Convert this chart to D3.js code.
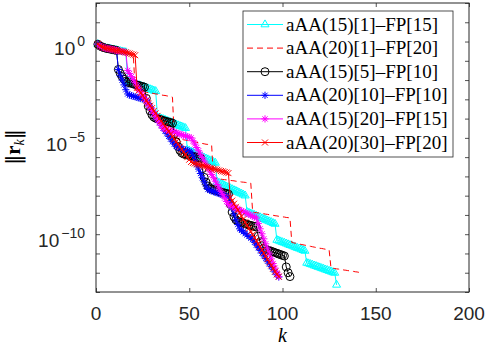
<!DOCTYPE html>
<html>
<head>
<meta charset="UTF-8">
<title>Residual history</title>
<script src="https://cdn.jsdelivr.net/npm/d3@7"></script>
<style>
  body { margin: 0; background: #fff; }
  svg { display: block; }
</style>
</head>
<body>
<div id="chart"></div>
<script>
  // legend labels, in plotting order
  const seriesNames = [
    "aAA(15)[1]\u2013FP[15]",
    "aAA(20)[1]\u2013FP[20]",
    "aAA(15)[5]\u2013FP[10]",
    "aAA(20)[10]\u2013FP[10]",
    "aAA(15)[20]\u2013FP[15]",
    "aAA(20)[30]\u2013FP[20]"
  ];

  // log10 ||r_k|| for k = 1, 2, 3, ...
  const logCyan = [
    -0.14, -0.22, -0.27, -0.31, -0.34, -0.36, -0.38, -0.40, -0.42, -0.44, -0.46, -0.48, -0.50, -0.52, -0.54, -0.56,
    -2.06, -2.10, -2.13, -2.17, -2.20, -2.23, -2.27, -2.30, -2.34, -2.37, -2.41, -2.44, -2.48, -2.51, -2.55, -2.58,
    -3.92, -3.96, -4.00, -4.03, -4.07, -4.11, -4.15, -4.19, -4.23, -4.27, -4.31, -4.35, -4.39, -4.42, -4.46, -4.50,
    -5.63, -5.67, -5.72, -5.76, -5.81, -5.85, -5.90, -5.94, -5.99, -6.03, -6.08, -6.12, -6.17, -6.21, -6.26, -6.30,
    -7.29, -7.34, -7.38, -7.43, -7.48, -7.53, -7.57, -7.62, -7.67, -7.72, -7.76, -7.81, -7.86, -7.90, -7.95, -8.00,
    -8.85, -8.89, -8.93, -8.97, -9.01, -9.05, -9.09, -9.13, -9.18, -9.22, -9.26, -9.30, -9.34, -9.38, -9.43, -9.47,
    -10.30, -10.34, -10.38, -10.42, -10.45, -10.49, -10.53, -10.57, -10.60, -10.64, -10.68, -10.72, -10.75, -10.79, -10.83, -10.87,
    -11.49, -11.52, -11.56, -11.59, -11.63, -11.66, -11.70, -11.73, -11.77, -11.80, -11.84, -11.87, -11.91, -11.94, -11.98, -12.01,
    -12.63
  ];

  const logRedDash = [
    -0.14, -0.22, -0.27, -0.31, -0.34, -0.36, -0.38, -0.40, -0.42, -0.44, -0.46, -0.48, -0.50, -0.52, -0.54, -0.56,
    -0.59, -0.62, -0.65, -0.68,
    -2.52, -2.54, -2.56, -2.58, -2.59, -2.61, -2.63, -2.65, -2.66, -2.68, -2.70, -2.72, -2.73, -2.75, -2.77, -2.79,
    -2.80, -2.82, -2.84, -2.86, -2.89,
    -5.01, -5.03, -5.05, -5.06, -5.08, -5.10, -5.12, -5.14, -5.15, -5.17, -5.19, -5.21, -5.23, -5.25, -5.27, -5.29,
    -5.31, -5.33, -5.34, -5.36, -5.38,
    -7.09, -7.10, -7.12, -7.13, -7.14, -7.16, -7.17, -7.18, -7.20, -7.21, -7.22, -7.23, -7.25, -7.26, -7.27, -7.29,
    -7.30, -7.31, -7.33, -7.34, -7.35,
    -8.85, -8.87, -8.88, -8.90, -8.91, -8.93, -8.94, -8.96, -8.97, -8.99, -9.00, -9.02, -9.04, -9.05, -9.07, -9.08,
    -9.10, -9.11, -9.13, -9.14, -9.16,
    -10.43, -10.45, -10.47, -10.49, -10.51, -10.53, -10.55, -10.57, -10.59, -10.61, -10.63, -10.65, -10.67, -10.69,
    -10.71, -10.73, -10.74, -10.76, -10.78, -10.80, -10.82,
    -11.75, -11.77, -11.78, -11.80, -11.81, -11.83, -11.84, -11.86, -11.87, -11.89, -11.90, -11.92, -11.93, -11.95,
    -11.96, -11.98, -11.99, -12.01
  ];

  const logBlack = [
    -0.14, -0.22, -0.27, -0.31, -0.34, -0.36, -0.38, -0.40, -0.42, -0.44, -0.46,
    -1.45, -1.65, -1.82, -1.96, -2.06,
    -2.11, -2.14, -2.17, -2.20, -2.23, -2.26, -2.29, -2.31, -2.34, -2.37,
    -2.95, -3.35, -3.60, -3.80, -3.92,
    -3.98, -4.01, -4.04, -4.07, -4.10, -4.13, -4.16, -4.18, -4.21, -4.24,
    -4.80, -5.20, -5.45, -5.65, -5.78,
    -5.84, -5.86, -5.89, -5.91, -5.93, -5.96, -5.98, -6.00, -6.03, -6.05,
    -6.60, -7.05, -7.30, -7.50, -7.60,
    -7.66, -7.69, -7.72, -7.75, -7.78, -7.81, -7.84, -7.86, -7.89, -7.92,
    -8.45, -8.85, -9.10, -9.25, -9.33,
    -9.37, -9.40, -9.43, -9.46, -9.49, -9.52, -9.55, -9.57, -9.60, -9.63,
    -10.10, -10.40, -10.60, -10.72, -10.78,
    -10.82, -10.85, -10.89, -10.92, -10.96, -10.99, -11.03, -11.06, -11.10, -11.13,
    -11.70, -12.00, -12.20
  ];

  const logBlue = [
    -0.14, -0.22, -0.27, -0.31, -0.34, -0.36, -0.38, -0.40, -0.42, -0.44, -0.46,
    -1.45, -1.75, -2.00, -2.25, -2.50, -2.72,
    -2.78, -2.81, -2.84, -2.87, -2.90, -2.93, -2.96, -2.98, -3.01, -3.04,
    -3.25, -3.42, -3.58, -3.74, -3.90, -4.05, -4.20, -4.35, -4.50, -4.64, -4.78, -4.92, -5.06, -5.20, -5.32, -5.44,
    -5.48, -5.52, -5.56, -5.59, -5.63, -5.66, -5.70, -5.74,
    -5.95, -6.18, -6.40, -6.62, -6.85, -7.07, -7.28, -7.50, -7.68,
    -7.72, -7.75, -7.79, -7.82, -7.86, -7.89, -7.93, -7.96, -8.00, -8.03, -8.07,
    -8.35, -8.65, -8.95, -9.25, -9.50, -9.72,
    -9.80, -9.88, -9.96, -10.04, -10.12, -10.20, -10.28,
    -10.42, -10.56, -10.70, -10.84, -10.98, -11.12, -11.26, -11.40, -11.54, -11.68, -11.82, -11.96, -12.10, -12.22
  ];

  const logMagenta = [
    -0.14, -0.22, -0.27, -0.31, -0.34, -0.36, -0.38, -0.40, -0.42, -0.44, -0.46, -0.48, -0.50, -0.52, -0.54, -0.56,
    -1.50, -1.66, -1.82, -1.98, -2.14, -2.30, -2.46, -2.62, -2.78, -2.94, -3.10, -3.26, -3.42, -3.58, -3.74, -3.90,
    -4.06, -4.22, -4.37, -4.50,
    -4.54, -4.57, -4.61, -4.64, -4.67, -4.70, -4.74, -4.77, -4.80, -4.84, -4.87, -4.90, -4.94, -4.97, -5.00,
    -5.15, -5.32, -5.50, -5.67, -5.85, -6.02, -6.20, -6.37, -6.55, -6.72, -6.90, -7.07, -7.25, -7.42, -7.60, -7.77,
    -7.95, -8.12, -8.30, -8.45,
    -8.50, -8.55, -8.60, -8.64, -8.69, -8.74, -8.79, -8.83, -8.88, -8.93, -8.97, -9.02, -9.07, -9.11, -9.16,
    -9.45, -9.72, -9.98, -10.24, -10.50, -10.76, -11.02, -11.28, -11.52, -11.76, -12.00, -12.20
  ];

  const logRedX = [
    -0.14, -0.22, -0.27, -0.31, -0.34, -0.36, -0.38, -0.40, -0.42, -0.44, -0.46, -0.48, -0.50, -0.52, -0.54, -0.56,
    -0.59, -0.62, -0.65, -0.68, -0.71,
    -2.40, -2.53, -2.66, -2.80, -2.93, -3.06, -3.20, -3.33, -3.46, -3.60, -3.73, -3.86, -4.00, -4.13, -4.26, -4.40,
    -4.53, -4.66, -4.80, -4.93, -5.06, -5.20, -5.33, -5.46, -5.60, -5.73, -5.86, -6.00, -6.13, -6.25,
    -6.30, -6.33, -6.36, -6.38, -6.41, -6.44, -6.47, -6.49, -6.52, -6.55, -6.58, -6.61, -6.63, -6.66, -6.69, -6.72,
    -6.74, -6.77, -6.80, -6.83,
    -8.10, -8.26, -8.42, -8.58, -8.74, -8.90, -9.06, -9.22, -9.38, -9.54, -9.70, -9.86, -10.02, -10.18, -10.34,
    -10.50, -10.66, -10.82, -10.98, -11.14, -11.30, -11.46, -11.62, -11.78, -11.94, -12.08, -12.20
  ];

  const xTicks = [0, 50, 100, 150, 200];
  const yLabelExps = [0, -5, -10];

  // drawing styles for each series (same order as names)
  const styles = [
    { color: "#00ffff", dash: null, marker: "triangle" },
    { color: "#ff0000", dash: "6,4", marker: null },
    { color: "#000000", dash: null, marker: "circle" },
    { color: "#0000ff", dash: null, marker: "star" },
    { color: "#ff00ff", dash: null, marker: "star" },
    { color: "#ff0000", dash: null, marker: "cross" }
  ];
  const allLogs = [logCyan, logRedDash, logBlack, logBlue, logMagenta, logRedX];

  const w = 488, h = 349;
  const padL = 96, padR = 469, padT = 3, padB = 292;
  const axisColor = "#262626";

  const svg = d3.select("#chart").append("svg")
    .attr("width", w)
    .attr("height", h);

  const xScale = d3.scaleLinear().domain([0, 200]).range([padL, padR]);
  const yScale = d3.scaleLog().domain([1e-13, 1e2]).range([padB, padT]);

  function markerPath(type) {
    if (type === "triangle") return "M0,-4.6L4,2.3L-4,2.3Z";
    if (type === "circle") return "M4,0A4,4 0 1,1 -4,0A4,4 0 1,1 4,0Z";
    if (type === "star") return "M-3.6,0H3.6M0,-3.6V3.6M-2.6,-2.6L2.6,2.6M-2.6,2.6L2.6,-2.6";
    if (type === "cross") return "M-3,-3L3,3M-3,3L3,-3";
    return "";
  }

  // the series
  const plot = svg.append("g");
  allLogs.forEach((logs, s) => {
    const st = styles[s];
    const pts = logs.map((e, i) => [i + 1, Math.pow(10, e)]);
    const line = d3.line()
      .x(d => xScale(d[0]))
      .y(d => yScale(d[1]));

    plot.append("path")
      .datum(pts)
      .attr("d", line)
      .attr("fill", "none")
      .attr("stroke", st.color)
      .attr("stroke-width", 1)
      .attr("stroke-dasharray", st.dash);

    if (st.marker) {
      plot.append("g")
        .selectAll("path")
        .data(pts)
        .enter()
        .append("path")
        .attr("transform", d => "translate(" + xScale(d[0]) + "," + yScale(d[1]) + ")")
        .attr("d", markerPath(st.marker))
        .attr("fill", "none")
        .attr("stroke", st.color)
        .attr("stroke-width", 1);
    }
  });

  // axes: ticks point inward, on all four sides
  const decades = d3.range(-13, 3).map(p => Math.pow(10, p));

  svg.append("g")
    .attr("transform", "translate(0," + padB + ")")
    .call(d3.axisBottom(xScale).tickValues(xTicks).tickSizeInner(-4).tickSizeOuter(0).tickFormat(""));
  svg.append("g")
    .attr("transform", "translate(0," + padT + ")")
    .call(d3.axisTop(xScale).tickValues(xTicks).tickSizeInner(-4).tickSizeOuter(0).tickFormat(""));
  svg.append("g")
    .attr("transform", "translate(" + padL + ",0)")
    .call(d3.axisLeft(yScale).tickValues(decades).tickSizeInner(-4).tickSizeOuter(0).tickFormat(""));
  svg.append("g")
    .attr("transform", "translate(" + padR + ",0)")
    .call(d3.axisRight(yScale).tickValues(decades).tickSizeInner(-4).tickSizeOuter(0).tickFormat(""));

  svg.selectAll(".domain").remove();
  svg.selectAll(".tick line").attr("stroke", axisColor).attr("stroke-width", 0.8);

  svg.append("rect")
    .attr("x", padL).attr("y", padT)
    .attr("width", padR - padL).attr("height", padB - padT)
    .attr("fill", "none")
    .attr("stroke", axisColor)
    .attr("stroke-width", 1);

  // tick labels
  svg.append("g").selectAll("text")
    .data(xTicks)
    .enter()
    .append("text")
    .attr("x", d => xScale(d))
    .attr("y", padB + 28)
    .attr("text-anchor", "middle")
    .attr("font-family", "Liberation Sans, Arial, sans-serif")
    .attr("font-size", 19)
    .attr("fill", axisColor)
    .text(d => d);

  const yLab = svg.append("g").selectAll("text")
    .data(yLabelExps)
    .enter()
    .append("text")
    .attr("x", padL - 11)
    .attr("y", d => yScale(Math.pow(10, d)) + 13)
    .attr("text-anchor", "end")
    .attr("font-family", "Liberation Sans, Arial, sans-serif")
    .attr("font-size", 19)
    .attr("fill", axisColor);
  yLab.append("tspan").text("10");
  yLab.append("tspan")
    .attr("font-size", 14)
    .attr("dx", 2)
    .attr("dy", -9)
    .text(d => d === 0 ? "0" : "\u2212" + (-d));

  // axis titles
  svg.append("text")
    .attr("x", xScale(100))
    .attr("y", 342)
    .attr("text-anchor", "middle")
    .attr("font-family", "Liberation Serif, serif")
    .attr("font-style", "italic")
    .attr("font-size", 20)
    .attr("fill", "#000")
    .text("k");

  const yTitle = svg.append("text")
    .attr("transform", "translate(20,147) rotate(-90)")
    .attr("text-anchor", "middle")
    .attr("font-family", "DejaVu Serif, serif")
    .attr("font-size", 20)
    .attr("fill", "#000");
  yTitle.append("tspan").text("\u2016");
  yTitle.append("tspan").attr("font-family", "Liberation Serif, serif").attr("font-weight", "bold").attr("font-size", 21).text("r");
  yTitle.append("tspan").attr("font-family", "Liberation Serif, serif").attr("font-style", "italic").attr("font-size", 14).attr("dy", 4).text("k");
  yTitle.append("tspan").attr("dy", -4).text("\u2016");

  // legend
  const legX = 243, legY = 11, legW = 210, legH = 146, rowH = 23.6;
  const legend = svg.append("g");
  legend.append("rect")
    .attr("x", legX).attr("y", legY)
    .attr("width", legW).attr("height", legH)
    .attr("fill", "#fff")
    .attr("stroke", axisColor)
    .attr("stroke-width", 0.8);

  seriesNames.forEach((name, i) => {
    const st = styles[i];
    const cy = legY + 13.5 + i * rowH;
    legend.append("line")
      .attr("x1", legX + 4).attr("x2", legX + 40)
      .attr("y1", cy).attr("y2", cy)
      .attr("stroke", st.color)
      .attr("stroke-width", 1)
      .attr("stroke-dasharray", st.dash);
    if (st.marker) {
      legend.append("path")
        .attr("transform", "translate(" + (legX + 22) + "," + cy + ")")
        .attr("d", markerPath(st.marker))
        .attr("fill", "none")
        .attr("stroke", st.color)
        .attr("stroke-width", 1);
    }
    legend.append("text")
      .attr("x", legX + 43)
      .attr("y", cy + 6)
      .attr("font-family", "Liberation Serif, serif")
      .attr("font-size", 19)
      .attr("fill", "#000")
      .text(name);
  });
</script>
</body>
</html>
